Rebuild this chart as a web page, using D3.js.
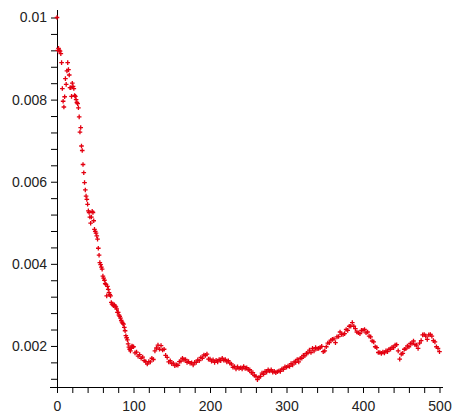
<!DOCTYPE html>
<html>
<head>
<meta charset="utf-8">
<script src="https://cdn.jsdelivr.net/npm/d3@7/dist/d3.min.js"></script>
<style>
  html, body { margin: 0; padding: 0; background: #fff; }
  svg { display: block; }
  .tick text { font-family: "Liberation Sans", Arial, sans-serif; font-size: 14px; fill: #222; }
</style>
</head>
<body>
<svg id="chart" width="453" height="414"></svg>
<script>
// Samples 0..99 are recorded at every step
const earlyStart = 0, earlyStep = 1;
const earlyValues = [
  0.01000, 0.00920, 0.00925, 0.00920, 0.00918, 0.00912, 0.00890, 0.00827, 0.00796, 0.00782,
  0.00807, 0.00851, 0.00837, 0.00870, 0.00890, 0.00873, 0.00860, 0.00829, 0.00829, 0.00808,
  0.00840, 0.00832, 0.00827, 0.00810, 0.00808, 0.00800, 0.00793, 0.00790, 0.00780, 0.00758,
  0.00721, 0.00732, 0.00687, 0.00676, 0.00642, 0.00622, 0.00598, 0.00580, 0.00565, 0.00557,
  0.00545, 0.00529, 0.00525, 0.00514, 0.00499, 0.00514, 0.00528, 0.00525, 0.00505, 0.00484,
  0.00479, 0.00475, 0.00468, 0.00460, 0.00438, 0.00421, 0.00403, 0.00398, 0.00392, 0.00387,
  0.00370, 0.00365, 0.00360, 0.00352, 0.00350, 0.00322, 0.00345, 0.00338, 0.00330, 0.00325,
  0.00322, 0.00306, 0.00302, 0.00300, 0.00298, 0.00300, 0.00297, 0.00295, 0.00290, 0.00282,
  0.00282, 0.00275, 0.00272, 0.00268, 0.00262, 0.00258, 0.00255, 0.00253, 0.00245, 0.00237,
  0.00225, 0.00220, 0.00215, 0.00205, 0.00197, 0.00192, 0.00188, 0.00195, 0.00200, 0.00198
];

// Samples 100..500 are recorded every second step
const laterStart = 100, laterStep = 2;
const laterValues = [
  0.00198, 0.00183, 0.00185, 0.00175, 0.00179, 0.00170, 0.00173, 0.00164, 0.00162, 0.00156,
  0.00162, 0.00161, 0.00170, 0.00167, 0.00188, 0.00195, 0.00202, 0.00192, 0.00201, 0.00190,
  0.00192, 0.00177, 0.00172, 0.00161, 0.00164, 0.00157, 0.00158, 0.00152, 0.00154, 0.00153,
  0.00162, 0.00163, 0.00170, 0.00166, 0.00167, 0.00160, 0.00162, 0.00158, 0.00159, 0.00154,
  0.00160, 0.00160, 0.00166, 0.00164, 0.00172, 0.00170, 0.00178, 0.00177, 0.00180, 0.00168,
  0.00168, 0.00163, 0.00166, 0.00160, 0.00165, 0.00161, 0.00167, 0.00164, 0.00170, 0.00165,
  0.00167, 0.00161, 0.00164, 0.00158, 0.00156, 0.00148, 0.00150, 0.00144, 0.00149, 0.00145,
  0.00147, 0.00144, 0.00150, 0.00145, 0.00147, 0.00142, 0.00142, 0.00135, 0.00135, 0.00128,
  0.00126, 0.00118, 0.00123, 0.00126, 0.00134, 0.00131, 0.00138, 0.00136, 0.00142, 0.00139,
  0.00142, 0.00136, 0.00138, 0.00135, 0.00137, 0.00139, 0.00138, 0.00144, 0.00143, 0.00149,
  0.00148, 0.00151, 0.00150, 0.00157, 0.00154, 0.00161, 0.00160, 0.00167, 0.00161, 0.00170,
  0.00170, 0.00177, 0.00176, 0.00182, 0.00183, 0.00190, 0.00184, 0.00194, 0.00188, 0.00196,
  0.00193, 0.00194, 0.00196, 0.00199, 0.00186, 0.00188, 0.00198, 0.00207, 0.00208, 0.00214,
  0.00216, 0.00217, 0.00208, 0.00222, 0.00223, 0.00234, 0.00228, 0.00228, 0.00230, 0.00240,
  0.00238, 0.00248, 0.00248, 0.00257, 0.00248, 0.00242, 0.00234, 0.00232, 0.00230, 0.00238,
  0.00238, 0.00240, 0.00232, 0.00234, 0.00224, 0.00222, 0.00212, 0.00210, 0.00198, 0.00196,
  0.00184, 0.00184, 0.00182, 0.00185, 0.00183, 0.00188, 0.00186, 0.00192, 0.00192, 0.00197,
  0.00196, 0.00202, 0.00203, 0.00188, 0.00168, 0.00180, 0.00182, 0.00192, 0.00193, 0.00200,
  0.00198, 0.00206, 0.00206, 0.00212, 0.00203, 0.00202, 0.00194, 0.00207, 0.00213, 0.00227,
  0.00228, 0.00224, 0.00216, 0.00227, 0.00228, 0.00224, 0.00213, 0.00210, 0.00198, 0.00194,
  0.00186
];

// Axis ticks and labels
const xTicks = [0,20,40,60,80,100,120,140,160,180,200,220,240,260,280,300,320,340,360,380,400,420,440,460,480,500];
const xLabels = [0, 100, 200, 300, 400, 500];
const yTicks = [0.0012,0.0016,0.002,0.0024,0.0028,0.0032,0.0036,0.004,0.0044,0.0048,0.0052,0.0056,0.006,0.0064,0.0068,0.0072,0.0076,0.008,0.0084,0.0088,0.0092,0.0096,0.01];
const yLabels = [0.002, 0.004, 0.006, 0.008, 0.01];
const yLabelText = ["0.002", "0.004", "0.006", "0.008", "0.01"];

const points = [
  ...earlyValues.map((v, i) => ({ x: earlyStart + i * earlyStep, y: v })),
  ...laterValues.map((v, i) => ({ x: laterStart + i * laterStep, y: v }))
];

const svg = d3.select("#chart");
svg.append("rect").attr("width", 453).attr("height", 414).attr("fill", "#fff");

const x = d3.scaleLinear().domain([0, 500]).range([57, 439.5]);
const y = d3.scaleLinear().domain([0.001, 0.01]).range([387, 17.5]);

const near = (a, b) => Math.abs(a - b) < 1e-9;

// x axis: ticks hang below the line
const gx = svg.append("g").attr("transform", `translate(0,${y(0.001)})`)
  .call(d3.axisBottom(x).tickValues(xTicks).tickSize(6).tickPadding(8)
    .tickFormat(d => xLabels.includes(d) ? String(d) : ""));
gx.select(".domain").remove();
gx.selectAll(".tick line").attr("stroke", "#000");

// y axis: ticks point left
const gy = svg.append("g").attr("transform", `translate(${x(0)},0)`)
  .call(d3.axisLeft(y).tickValues(yTicks).tickSize(6).tickPadding(4)
    .tickFormat(d => {
      const k = yLabels.findIndex(v => near(v, d));
      return k >= 0 ? yLabelText[k] : "";
    }));
gy.select(".domain").remove();
gy.selectAll(".tick line").attr("stroke", "#000");

// axis lines, slightly overhanging the plotted range
svg.append("line")
  .attr("x1", x(0) - 7).attr("x2", x(500) + 3)
  .attr("y1", y(0.001)).attr("y2", y(0.001))
  .attr("stroke", "#000").attr("stroke-width", 1).attr("shape-rendering", "crispEdges");
svg.append("line")
  .attr("x1", x(0)).attr("x2", x(0))
  .attr("y1", y(0.01) - 8).attr("y2", y(0.001))
  .attr("stroke", "#000").attr("stroke-width", 1).attr("shape-rendering", "crispEdges");

// point markers: small plus signs
svg.append("g").selectAll("path")
  .data(points)
  .join("path")
  .attr("transform", d => `translate(${x(d.x)},${y(d.y)})`)
  .attr("d", "M-2.3,0H2.3M0,-2.3V2.3")
  .attr("stroke", "#e30010")
  .attr("stroke-width", 1.3)
  .attr("fill", "none");
</script>
</body>
</html>
